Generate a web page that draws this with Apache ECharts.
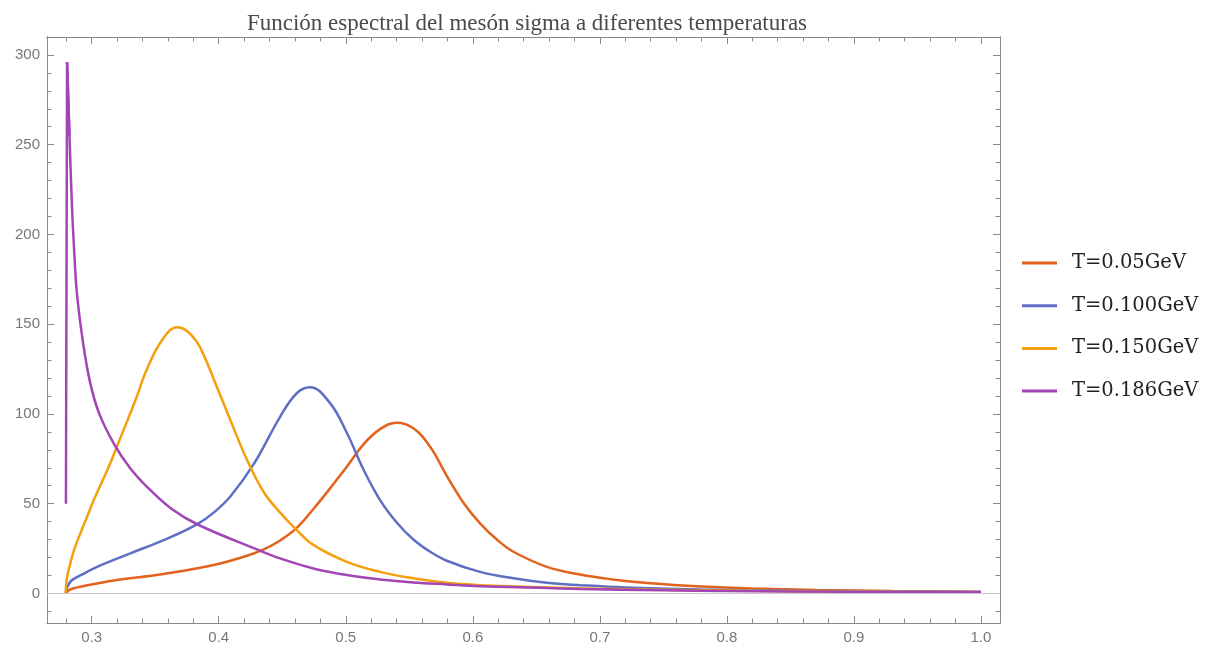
<!DOCTYPE html>
<html>
<head>
<meta charset="utf-8">
<script src="https://cdn.jsdelivr.net/npm/echarts@6/dist/echarts.min.js"></script>
<style>
  html, body { margin: 0; padding: 0; background: #fff; }
  #chart { width: 1220px; height: 648px; }
</style>
</head>
<body>
<div id="chart"></div>
<script>
// values
const names = ["T=0.05GeV", "T=0.100GeV", "T=0.150GeV", "T=0.186GeV"];

const x05 = [0.2795, 0.2815, 0.285, 0.291, 0.3042, 0.3173, 0.3567, 0.396, 0.4223, 0.4354, 0.4483, 0.4614, 0.4745, 0.4876, 0.5008, 0.5139, 0.527, 0.5401, 0.5532, 0.5664, 0.5795, 0.5926, 0.6057, 0.6189, 0.632, 0.6583, 0.6845, 0.71, 0.74, 0.78, 0.82, 0.87, 0.93, 1.0];
const y05 = [0, 1.5, 2.7, 3.7, 5.5, 7.2, 10.8, 15.8, 21, 24.5, 29.5, 36.5, 47, 58.5, 70.5, 83, 91.5, 95.1, 92, 81.7, 65.5, 50.5, 39, 30, 23.2, 14.8, 10.5, 7.8, 5.6, 3.8, 2.7, 1.9, 1.3, 0.9];

const x100 = [0.2795, 0.2805, 0.2825, 0.2845, 0.291, 0.3042, 0.3304, 0.3567, 0.3829, 0.396, 0.4091, 0.4275, 0.4483, 0.4614, 0.4719, 0.4876, 0.5008, 0.5139, 0.527, 0.5401, 0.5532, 0.5664, 0.5795, 0.6057, 0.632, 0.6583, 0.6845, 0.72, 0.78, 0.85, 0.92, 1.0];
const y100 = [0, 3, 5.8, 7.4, 10, 14.8, 22.3, 29.7, 38.5, 45, 54, 72, 98.4, 111.5, 114.8, 106, 89.5, 69, 52, 39.5, 30, 23.2, 18.2, 12, 8.4, 5.9, 4.6, 3.3, 2.2, 1.5, 1.1, 0.8];

const x150 = [0.2795, 0.2797, 0.2802, 0.281, 0.2827, 0.286, 0.291, 0.2965, 0.3016, 0.3134, 0.3239, 0.3344, 0.3435, 0.3553, 0.3672, 0.3745, 0.3829, 0.389, 0.396, 0.4091, 0.4223, 0.4354, 0.4483, 0.4614, 0.4745, 0.5008, 0.527, 0.5532, 0.5795, 0.6057, 0.6583, 0.72, 0.80, 0.90, 1.0];
const y150 = [0, 3, 7, 10.5, 15.5, 24, 33.4, 43, 52, 70.6, 89, 107.6, 125, 141, 148.3, 146.5, 140, 131.5, 119.5, 96.6, 74.3, 56.5, 45, 35.3, 27, 17.6, 12, 8.4, 5.9, 4.6, 3.3, 2.3, 1.6, 1.0, 0.7];

// T=0.186: jump at threshold and sharp spike, then a smooth decay
const x186Spike = [0.2797, 0.2806, 0.2825];
const y186Spike = [50, 296, 255];
const x186 = [0.2806, 0.2825, 0.2845, 0.2865, 0.2885, 0.2929, 0.2989, 0.306, 0.3173, 0.33, 0.3435, 0.363, 0.3842, 0.4301, 0.4483, 0.4745, 0.5008, 0.527, 0.5532, 0.5795, 0.6057, 0.6583, 0.6845, 0.75, 0.80, 0.90, 1.0];
const y186 = [296, 255, 215, 187, 166, 141, 117, 100, 83.6, 70, 59.4, 47, 38.1, 24.5, 19.5, 13.9, 10.2, 7.8, 6.1, 5, 4, 3, 2.4, 1.7, 1.3, 0.9, 0.6];

const xMajor = [0.3, 0.4, 0.5, 0.6, 0.7, 0.8, 0.9, 1.0];
const yMajor = [0, 50, 100, 150, 200, 250, 300];

const colors = ["#e2631e", "#5f6fc4", "#f4a00e", "#a245b5"];

const xMin = 0.2648, xMax = 1.015;
const yMin = -16.5, yMax = 310;

const xMinor = [];
for (let v = 28; v <= 100; v += 2) xMinor.push(v / 100);
const yMinor = [];
for (let v = -10; v <= 310; v += 10) yMinor.push(v);

const frameColor = "#8a8a8a";

function xAxisDef(position, values, len, withLabel) {
  return {
    type: "value",
    position: position,
    min: xMin,
    max: xMax,
    axisLine: { show: true, onZero: false, lineStyle: { color: frameColor, width: 1 } },
    axisTick: { show: true, inside: true, length: len, customValues: values, lineStyle: { color: frameColor } },
    axisLabel: {
      show: withLabel,
      customValues: xMajor,
      formatter: (v) => v.toFixed(1),
      color: "#777",
      fontFamily: "Liberation Sans",
      fontSize: 15,
      margin: 7,
    },
    splitLine: { show: false },
  };
}

function yAxisDef(position, values, len, withLabel) {
  return {
    type: "value",
    position: position,
    min: yMin,
    max: yMax,
    axisLine: { show: true, onZero: false, lineStyle: { color: frameColor, width: 1 } },
    axisTick: { show: true, inside: true, length: len, customValues: values, lineStyle: { color: frameColor } },
    axisLabel: {
      show: withLabel,
      customValues: yMajor,
      color: "#777",
      fontFamily: "Liberation Sans",
      fontSize: 15,
      margin: 7,
    },
    splitLine: { show: false },
  };
}

function pairs(xs, ys) {
  return xs.map((x, i) => [x, ys[i]]);
}

function lineSeries(name, data, color, smooth) {
  return {
    name: name,
    type: "line",
    data: data,
    showSymbol: false,
    symbol: "none",
    smooth: smooth,
    lineStyle: { color: color, width: 2.5 },
    itemStyle: { color: color },
  };
}

const series = [
  lineSeries(names[0], pairs(x05, y05), colors[0], 0.4),
  lineSeries(names[1], pairs(x100, y100), colors[1], 0.4),
  lineSeries(names[2], pairs(x150, y150), colors[2], 0.4),
  lineSeries(names[3], pairs(x186Spike, y186Spike), colors[3], false),
  lineSeries(names[3], pairs(x186, y186), colors[3], 0.4),
];

// thin grey zero line, like the Mathematica axis
series[0].markLine = {
  silent: true,
  symbol: "none",
  label: { show: false },
  lineStyle: { color: "#c8c8c8", type: "solid", width: 1 },
  data: [{ yAxis: 0 }],
};

const chart = echarts.init(document.getElementById("chart"));

const option = {
  animation: false,
  backgroundColor: "#fff",
  title: {
    text: "Función espectral del mesón sigma a diferentes temperaturas",
    left: 522,
    textAlign: "center",
    top: 7,
    textStyle: { fontFamily: "Liberation Serif", fontSize: 23, fontWeight: "normal", color: "#4a4a4a" },
  },
  legend: {
    orient: "vertical",
    left: 1017,
    top: 248,
    itemWidth: 35,
    itemHeight: 3,
    itemGap: 22.7,
    icon: "rect",
    data: names,
    textStyle: { fontFamily: "DejaVu Serif", fontSize: 19.5, color: "#222", lineHeight: 20, padding: [0, 0, 0, 10] },
  },
  grid: { left: 47, top: 37, right: 220, bottom: 25, containLabel: false },
  xAxis: [
    xAxisDef("bottom", xMajor, 7, true),
    xAxisDef("bottom", xMinor, 4.5, false),
    xAxisDef("top", xMajor, 7, false),
    xAxisDef("top", xMinor, 4.5, false),
  ],
  yAxis: [
    yAxisDef("left", yMajor, 7, true),
    yAxisDef("left", yMinor, 4.5, false),
    yAxisDef("right", yMajor, 7, false),
    yAxisDef("right", yMinor, 4.5, false),
  ],
  series: series,
};

chart.setOption(option);
</script>
</body>
</html>
